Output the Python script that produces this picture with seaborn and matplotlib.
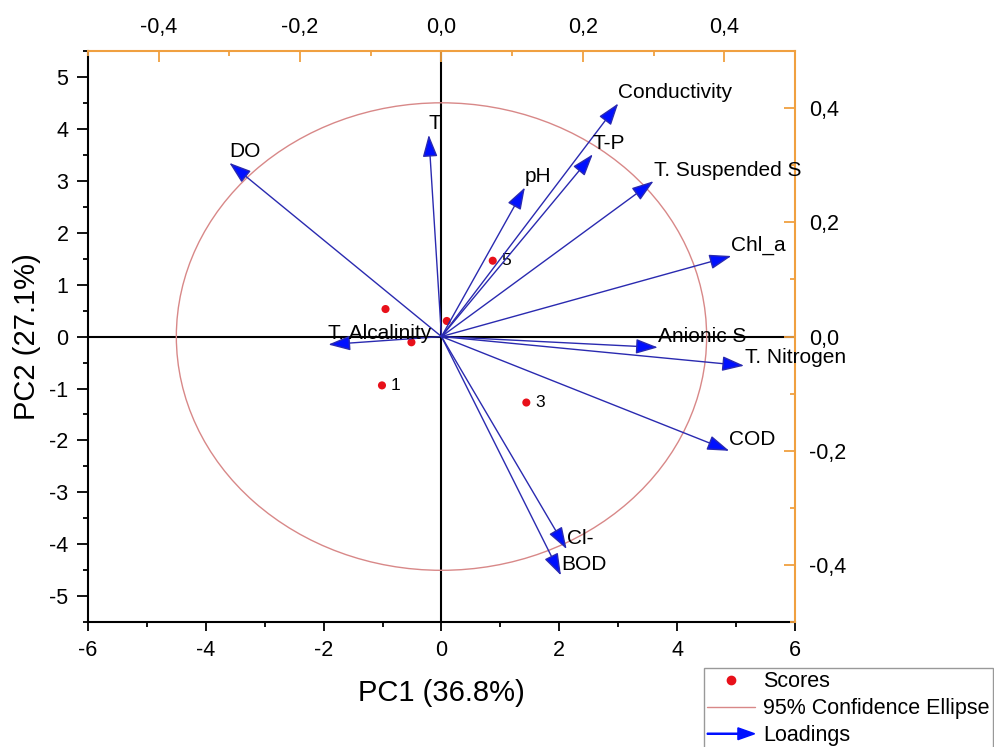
import matplotlib
matplotlib.use('Agg')
import matplotlib.pyplot as plt
import seaborn as sns
import numpy as np
from matplotlib.patches import Ellipse, FancyArrow
from matplotlib.lines import Line2D
from matplotlib.ticker import MultipleLocator, FuncFormatter
from matplotlib.legend_handler import HandlerPatch

# loadings (top / right axes)
variables = ['DO', 'T', 'T. Alcalinity', 'Conductivity', 'T-P', 'pH',
             'T. Suspended S', 'Chl_a', 'Anionic S', 'T. Nitrogen', 'COD', 'Cl-', 'BOD']
load_pc1 = [-0.300, -0.018, -0.160, 0.250, 0.214, 0.118, 0.300, 0.410, 0.306, 0.428, 0.407, 0.177, 0.169]
load_pc2 = [0.304, 0.353, -0.014, 0.408, 0.319, 0.261, 0.272, 0.141, -0.019, -0.051, -0.200, -0.372, -0.418]

# scores (bottom / left axes)
score_pc1 = [-1.01, -0.95, 1.44, -0.51, 0.87, 0.09]
score_pc2 = [-0.94, 0.53, -1.27, -0.11, 1.46, 0.30]
score_labels = ['1', '', '3', '', '5', '']

# 95% confidence ellipse semi-axes
ellipse_rx = 4.5
ellipse_ry = 4.5

sns.set_style('ticks')
plt.rcParams['font.family'] = ['Liberation Sans', 'DejaVu Sans']
plt.rcParams['axes.unicode_minus'] = False
plt.rcParams['text.color'] = 'black'
plt.rcParams['axes.labelcolor'] = 'black'

ORANGE = '#f0a040'
BLUE = '#0010ff'
NAVY = '#2a2ab0'
RED = '#e8101a'
ROSE = '#d88888'

# label offsets (points) from the arrow tips; default sits just above the tip
label_offset = {'T. Nitrogen': (1, 6)}

fig = plt.figure(figsize=(9.95, 7.47), dpi=100)
rect = [0.0884, 0.167, 0.7106, 0.7649]
ax = fig.add_axes(rect)
ax2 = fig.add_axes(rect, label='loadings')
ax2.patch.set_visible(False)

# --- score axes ---
ax.set_xlim(-6, 6)
ax.set_ylim(-5.5, 5.5)
ax.axhline(0, color='black', lw=1.5, zorder=1)
ax.axvline(0, color='black', lw=1.5, zorder=1)
ax.add_patch(Ellipse((0, 0), 2 * ellipse_rx, 2 * ellipse_ry, fill=False,
                     edgecolor=ROSE, lw=1.0, zorder=2))
sns.scatterplot(x=score_pc1, y=score_pc2, ax=ax, color=RED, s=34,
                edgecolor='none', zorder=6, legend=False)
for x, y, lab in zip(score_pc1, score_pc2, score_labels):
    if lab:
        ax.annotate(lab, (x, y), xytext=(6.5, 0), textcoords='offset points',
                    va='center', ha='left', fontsize=12.5, zorder=7)

ax.xaxis.set_major_locator(MultipleLocator(2))
ax.xaxis.set_minor_locator(MultipleLocator(1))
ax.yaxis.set_major_locator(MultipleLocator(1))
ax.yaxis.set_minor_locator(MultipleLocator(0.5))
ax.tick_params(axis='y', which='major', direction='out', length=8, width=1.3,
               color='black', labelcolor='black', labelsize=15.5, pad=6)
ax.tick_params(axis='y', which='minor', direction='out', length=3.5, width=1.3,
               color='black')
ax.tick_params(axis='x', which='major', direction='out', length=6.5, width=1.3,
               color='black', labelcolor='black', labelsize=15.5, pad=6)
ax.tick_params(axis='x', which='minor', direction='out', length=3.5, width=1.3,
               color='black')
for side in ['top', 'right']:
    ax.spines[side].set_visible(False)
for side in ['left', 'bottom']:
    ax.spines[side].set_linewidth(1.5)
    ax.spines[side].set_color('black')
ax.set_xlabel('PC1 (36.8%)', fontsize=21)
ax.set_ylabel('PC2 (27.1%)', fontsize=21)
ax.xaxis.set_label_coords(0.5, -0.100)
ax.yaxis.set_label_coords(-0.066, 0.5)

# --- loading axes ---
ax2.set_xlim(-0.5, 0.5)
ax2.set_ylim(-0.5, 0.5)
ax2.xaxis.tick_top()
ax2.yaxis.tick_right()


def comma(v, pos):
    s = f'{v:.1f}'.replace('.', ',')
    return '0,0' if s == '-0,0' else s


ax2.xaxis.set_major_locator(MultipleLocator(0.2))
ax2.xaxis.set_minor_locator(MultipleLocator(0.1))
ax2.yaxis.set_major_locator(MultipleLocator(0.2))
ax2.yaxis.set_minor_locator(MultipleLocator(0.1))
ax2.xaxis.set_major_formatter(FuncFormatter(comma))
ax2.yaxis.set_major_formatter(FuncFormatter(comma))
ax2.tick_params(which='major', direction='in', length=8, width=1.3, color=ORANGE,
                labelcolor='black', labelsize=15.5)
ax2.tick_params(which='minor', direction='in', length=3.5, width=1.3, color=ORANGE)
ax2.tick_params(axis='x', which='major', pad=9)
ax2.tick_params(axis='y', which='major', pad=10)
for side in ['left', 'bottom']:
    ax2.spines[side].set_visible(False)
for side in ['top', 'right']:
    ax2.spines[side].set_visible(True)
    ax2.spines[side].set_color(ORANGE)
    ax2.spines[side].set_linewidth(1.5)

for name, lx, ly in zip(variables, load_pc1, load_pc2):
    ax2.annotate('', xy=(lx, ly), xytext=(0, 0),
                 arrowprops=dict(arrowstyle='-|>,head_length=0.68,head_width=0.23',
                                 mutation_scale=20, fc=BLUE, ec=NAVY, lw=1.0,
                                 shrinkA=0, shrinkB=0))
    ax2.annotate(name, xy=(lx, ly), xytext=label_offset.get(name, (0, 8)),
                 textcoords='offset points', ha='left', va='center', fontsize=15)


# --- legend ---
def make_arrow(legend, orig_handle, xdescent, ydescent, width, height, fontsize):
    return FancyArrow(-xdescent, height / 2 - ydescent, width, 0,
                      length_includes_head=True, width=0.8,
                      head_width=8.5, head_length=12)


arrow_handle = FancyArrow(0, 0, 1, 0, facecolor=BLUE, edgecolor=BLUE)
handles = [
    Line2D([], [], marker='o', color=RED, ls='none', markersize=6),
    Line2D([], [], color=ROSE, lw=1.0),
    arrow_handle,
]
labels = ['Scores', '95% Confidence Ellipse', 'Loadings']
leg = fig.legend(handles, labels, loc='upper left',
                 bbox_to_anchor=(704 / 995, 1 - 668 / 747),
                 borderaxespad=0, borderpad=0.15, fontsize=15.5,
                 handlelength=2.2, handletextpad=0.4, labelspacing=0.28,
                 fancybox=False, framealpha=1, edgecolor='#999999',
                 handler_map={FancyArrow: HandlerPatch(patch_func=make_arrow)})
leg.get_frame().set_linewidth(1.0)

fig.savefig('out.png', dpi=100)
